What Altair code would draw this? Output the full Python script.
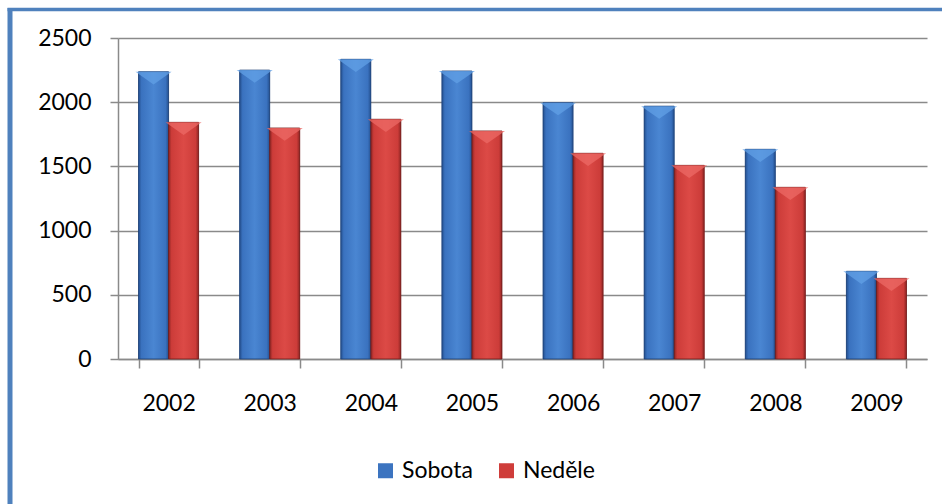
import altair as alt
import pandas as pd

# Weekend counts per year
years = ["2002", "2003", "2004", "2005", "2006", "2007", "2008", "2009"]
series_names = ["Sobota", "Neděle"]
sobota = [2237, 2250, 2334, 2243, 1996, 1969, 1633, 683]
nedele = [1843, 1799, 1867, 1776, 1602, 1508, 1337, 628]

rows = []
for i, rok in enumerate(years):
    rows.append({"rok": rok, "den": "Sobota", "pocet": sobota[i]})
    rows.append({"rok": rok, "den": "Neděle", "pocet": nedele[i]})
df = pd.DataFrame(rows)

FONT = "Lato"
GRAY = "#8a8a8a"
FRAME = "#4f81bd"
flat = ["#3c74c0", "#cf3d3a"]
shades = {
    "Sobota": ("#24508f", "#3a72bf", "#4a86d2"),
    "Neděle": ("#8e2523", "#cc3c39", "#dc4a46"),
}
outline = {"Sobota": "#1d3f73", "Neděle": "#6e1c1a"}
highlight = {"Sobota": "#62a0e6", "Neděle": "#ec6a66"}

W, H = 809, 321
PAD_L, PAD_T = 118, 38


def bevel(dark, mid, light):
    return alt.Gradient(
        gradient="linear", x1=0, x2=1, y1=0, y2=0,
        stops=[
            alt.GradientStop(offset=0, color=dark),
            alt.GradientStop(offset=0.1, color=mid),
            alt.GradientStop(offset=0.5, color=light),
            alt.GradientStop(offset=0.9, color=mid),
            alt.GradientStop(offset=1, color=dark),
        ],
    )


x_enc = alt.X(
    "rok:N", sort=years, title=None,
    scale=alt.Scale(paddingInner=0.406, paddingOuter=0.203),
    axis=alt.Axis(
        tickBand="extent", tickSize=9, tickColor=GRAY, tickWidth=1.5,
        domainColor=GRAY, domainWidth=1.5, labelAngle=0,
        labelFont=FONT, labelFontSize=23, labelColor="#000000",
        labelPadding=24, grid=False,
    ),
)
off_enc = alt.XOffset("den:N", sort=series_names,
                      scale=alt.Scale(paddingInner=0, paddingOuter=0))
y_enc = alt.Y(
    "pocet:Q", title=None,
    scale=alt.Scale(domain=[0, 2500], nice=False),
    axis=alt.Axis(
        values=[0, 500, 1000, 1500, 2000, 2500], format="d",
        tickSize=8, tickColor=GRAY, tickWidth=1.5,
        domainColor=GRAY, domainWidth=1.5,
        gridColor=GRAY, gridWidth=1.5,
        labelFont=FONT, labelFontSize=23, labelColor="#000000",
        labelPadding=19,
    ),
)

base = alt.Chart(df).mark_bar().encode(
    x=x_enc, xOffset=off_enc, y=y_enc,
    color=alt.Color(
        "den:N", sort=series_names,
        scale=alt.Scale(domain=series_names, range=flat),
        legend=alt.Legend(
            title=None, orient="none", direction="horizontal",
            legendX=256, legendY=421, padding=0,
            symbolType="square", symbolSize=225, symbolStrokeWidth=0,
            symbolOpacity=1, labelFont=FONT, labelFontSize=23,
            labelColor="#000000", labelOffset=5, columnPadding=22,
        ),
    ),
)

# Chevron-shaped highlight on the top face of each bar
chevron = "M -1 0 L 1 0 L 0 0.7 Z"

layers = [base]
for name in series_names:
    sub = alt.Chart(df).transform_filter(alt.datum.den == name)
    layers.append(
        sub.mark_bar(fill=bevel(*shades[name]), stroke=outline[name],
                     strokeWidth=1, strokeOpacity=0.8)
        .encode(x=x_enc, xOffset=off_enc, y=y_enc)
    )
    layers.append(
        sub.mark_point(shape=chevron, size=1300, filled=True,
                       color=highlight[name], opacity=0.75, strokeWidth=0)
        .encode(x=x_enc, xOffset=off_enc, y=y_enc)
    )

# Outer frame of the chart box (left and top edges)
frame_df = pd.DataFrame({"k": [0]})
left_edge = alt.Chart(frame_df).mark_rule(color=FRAME, strokeWidth=5).encode(
    x=alt.value(10 - PAD_L), y=alt.value(8 - PAD_T), y2=alt.value(504 - PAD_T)
)
top_edge = alt.Chart(frame_df).mark_rule(color=FRAME, strokeWidth=3.5).encode(
    x=alt.value(7.5 - PAD_L), x2=alt.value(942 - PAD_L), y=alt.value(9.5 - PAD_T)
)
layers += [left_edge, top_edge]

chart = alt.layer(*layers).properties(
    width=W, height=H,
    autosize=alt.AutoSizeParams(type="none"),
    padding={"left": PAD_L, "top": PAD_T, "right": 942 - PAD_L - W, "bottom": 504 - PAD_T - H},
    background="#ffffff",
).configure_view(stroke=None)

chart.save("out.html", embed_options={"renderer": "svg", "actions": False})
